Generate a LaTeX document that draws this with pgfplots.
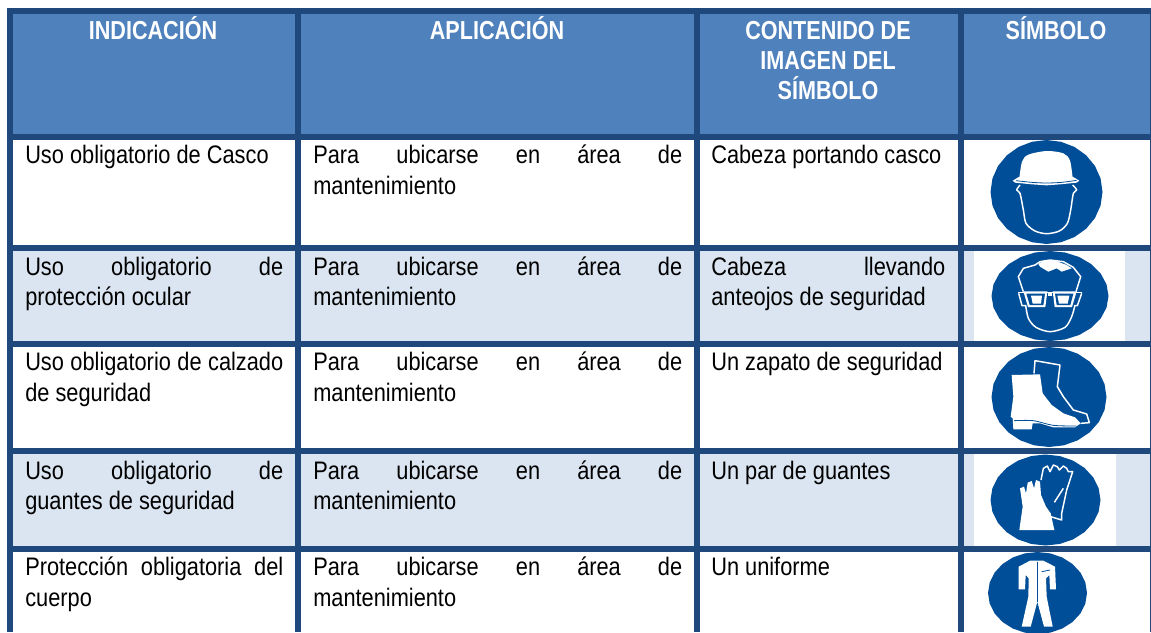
\documentclass[border=0pt]{standalone}
\usepackage{pgfplots}
\usepackage{pgfplotstable}
\usepackage{fontspec}
\pgfplotsset{compat=1.18}
\setmainfont{Liberation Sans}
\newfontfamily\bodyf[FakeStretch=0.86]{Liberation Sans}
\newfontfamily\headf[FakeStretch=0.83]{Liberation Sans Bold}
\definecolor{bord}{HTML}{1F497D}
\definecolor{head}{HTML}{4F81BD}
\definecolor{lite}{HTML}{DBE5F1}
\definecolor{sym}{HTML}{004E98}
\pgfplotstableread{
x y
1 0
0.9659 0.2588
0.866 0.5
0.7071 0.7071
0.5 0.866
0.2588 0.9659
0 1
-0.2588 0.9659
-0.5 0.866
-0.7071 0.7071
-0.866 0.5
-0.9659 0.2588
-1 0
-0.9659 -0.2588
-0.866 -0.5
-0.7071 -0.7071
-0.5 -0.866
-0.2588 -0.9659
0 -1
0.2588 -0.9659
0.5 -0.866
0.7071 -0.7071
0.866 -0.5
0.9659 -0.2588
}\unitc
% rectangle x1 y1 x2 y2 colour
\newcommand\tcell[5]{\addplot[fill=#5,draw=none] coordinates {(#1,#2) (#3,#2) (#3,#4) (#1,#4)} --cycle;}
\newcommand\disc[4]{\addplot[fill=sym,draw=none,x filter/.expression={#1+#3*x},y filter/.expression={#2+#4*y}] table[x=x,y=y] {\unitc} --cycle;}
\newcommand\tleft[3]{\node[anchor=base west,inner sep=0pt,text=black] at (axis cs:#1,#2) {\fontsize{19}{21}\bodyf #3};}
\newcommand\tjust[4]{\node[anchor=base west,inner sep=0pt,text=black] at (axis cs:#1,#2) {\fontsize{19}{21}\bodyf\makebox[\dimexpr #3pt*3/4\relax][s]{#4}};}
\newcommand\thead[3]{\node[anchor=base,inner sep=0pt,text=white] at (axis cs:#1,#2) {\fontsize{19.5}{21}\headf #3};}
\pgfplotsset{
 zA/.style={x filter/.expression={960+x/3},y filter/.expression={130+y/3}},
 zB/.style={x filter/.expression={960+x/3},y filter/.expression={340+y/3}},
 wf/.style={fill=white,draw=none},
 bf/.style={fill=sym,draw=none},
 wl/.style={draw=white,line width=1.1pt,fill=none,line join=round},
 bl/.style={draw=sym,line width=0.6pt,fill=none,line join=round},
}
\begin{document}
\begin{tikzpicture}
\begin{axis}[
 scale only axis, width=863.25pt, height=474pt,
 xmin=0, xmax=1151, ymin=0, ymax=632, y dir=reverse,
 hide axis, clip=true]
% page background
\tcell{0}{0}{1151}{632}{white}
% table frame
\tcell{7}{8}{1151}{632}{bord}
% header
\tcell{13}{14}{295}{134}{head}
\tcell{301}{14}{694}{134}{head}
\tcell{700}{14}{958}{134}{head}
\tcell{964}{14}{1150}{134}{head}
% rows
\tcell{13}{140}{295}{245}{white}
\tcell{301}{140}{694}{245}{white}
\tcell{700}{140}{958}{245}{white}
\tcell{964}{140}{1150}{245}{white}
\tcell{13}{251}{295}{341}{lite}
\tcell{301}{251}{694}{341}{lite}
\tcell{700}{251}{958}{341}{lite}
\tcell{964}{251}{1150}{341}{lite}
\tcell{974}{251}{1125}{341}{white}
\tcell{13}{347}{295}{448}{white}
\tcell{301}{347}{694}{448}{white}
\tcell{700}{347}{958}{448}{white}
\tcell{964}{347}{1150}{448}{white}
\tcell{13}{454}{295}{546}{lite}
\tcell{301}{454}{694}{546}{lite}
\tcell{700}{454}{958}{546}{lite}
\tcell{964}{454}{1150}{546}{lite}
\tcell{974}{454}{1116}{546}{white}
\tcell{13}{552}{295}{632}{white}
\tcell{301}{552}{694}{632}{white}
\tcell{700}{552}{958}{632}{white}
\tcell{964}{552}{1150}{632}{white}
% symbol discs
\disc{1046.5}{192}{56}{52}
\disc{1050}{296}{58.5}{45}
\disc{1049}{397}{57.5}{50}
\disc{1045.5}{500}{55}{45.5}
\disc{1037.5}{593}{49.5}{41}
% helmet
\addplot[wf,zA,smooth] coordinates {(178,145) (186,95) (205,74) (260,63) (310,70) (330,92) (338,145)} --cycle;
\addplot[wf,zA] coordinates {(178,140) (338,140) (358,152) (350,158) (300,163) (260,166) (215,163) (165,158) (158,152)} --cycle;
\addplot[bl,zA,smooth] coordinates {(168,152) (215,157) (260,159) (305,157) (350,151)};
\addplot[wl,zA,smooth] coordinates {(180,165) (170,180) (180,190) (190,240) (198,280) (225,303) (260,311) (298,303) (322,280) (332,240) (340,190) (350,180) (338,165)};
% glasses face
\addplot[wl,zA] coordinates {(190,485) (175,440) (190,415) (225,405) (240,395) (270,390) (310,395) (340,412) (362,440) (348,485)};
\addplot[wf,zA] coordinates {(235,402) (250,392) (285,392) (320,405) (335,415) (305,425) (290,415) (265,425) (240,410)} --cycle;
\addplot[wl,zA,smooth] coordinates {(197,525) (205,565) (228,592) (270,605) (315,592) (335,560) (345,525)};
\addplot[wl,zA] coordinates {(176,490) (186,527) (197,527)};
\addplot[wl,zA] coordinates {(365,490) (352,527) (345,527)};
\addplot[wl,zA] coordinates {(175,487) (365,487)};
\addplot[wf,zA] coordinates {(190,484) (262,484) (256,531) (204,531)} --cycle;
\addplot[wf,zA] coordinates {(278,484) (350,484) (336,531) (284,531)} --cycle;
\addplot[bf,zA] coordinates {(199,491) (255,491) (250,525) (209,525)} --cycle;
\addplot[bf,zA] coordinates {(285,491) (340,491) (331,525) (290,525)} --cycle;
\addplot[wf,zA] coordinates {(213,497) (246,497) (243,521) (218,521)} --cycle;
\addplot[wf,zA] coordinates {(292,497) (328,497) (323,521) (297,521)} --cycle;
\addplot[wf,zA] coordinates {(263,490) (276,490) (276,498) (263,498)} --cycle;
% boots
\addplot[wf,zB] coordinates {(155,105) (240,103) (248,160) (275,195) (310,220) (345,232) (362,250) (345,262) (280,262) (240,250) (218,250) (215,268) (160,268) (158,235) (152,230) (160,170)} --cycle;
\addplot[bl,zB,smooth] coordinates {(162,242) (220,242) (280,256) (350,258)};
\addplot[wl,zB] coordinates {(222,100) (225,62) (300,75) (292,140) (310,170) (340,210) (380,222) (388,248) (362,250)};
% gloves
\addplot[wf,zB] coordinates {(178,570) (188,500) (180,445) (192,440) (198,460) (203,428) (215,423) (222,445) (228,420) (240,425) (243,465) (258,500) (272,520) (283,570)} --cycle;
\addplot[wl,zB] coordinates {(243,420) (250,385) (262,378) (270,395) (280,375) (292,380) (298,390) (310,378) (320,385) (325,395) (338,395) (320,450) (305,520) (305,540) (272,530)};
\addplot[wl,zB] coordinates {(283,487) (310,445)};
% coverall
\addplot[wf,zB] coordinates {(210,662) (250,662) (285,680) (288,748) (270,748) (268,705) (258,715) (260,770) (278,860) (252,860) (232,785) (212,860) (185,860) (205,770) (206,715) (197,705) (195,748) (176,748) (176,680)} --cycle;
\addplot[bl,zB] coordinates {(232,665) (232,785)};
\addplot[bl,zB] coordinates {(245,695) (270,690)};
% header text
\thead{153}{39}{INDICACIÓN}
\thead{497}{39}{APLICACIÓN}
\thead{828}{39}{CONTENIDO DE}
\thead{828}{69}{IMAGEN DEL}
\thead{828}{99}{SÍMBOLO}
\thead{1056}{39}{SÍMBOLO}
% column 1
\tleft{25}{163}{Uso obligatorio de Casco}
\tjust{25}{275}{258}{Uso\hfill obligatorio\hfill de}
\tleft{25}{305}{protección ocular}
\tjust{25}{370}{258}{Uso\hfill obligatorio\hfill de\hfill calzado}
\tleft{25}{401}{de seguridad}
\tjust{25}{479}{258}{Uso\hfill obligatorio\hfill de}
\tleft{25}{509}{guantes de seguridad}
\tjust{25}{575}{258}{Protección\hfill obligatoria\hfill del}
\tleft{25}{606}{cuerpo}
% column 2
\tjust{313}{163}{369}{Para\hfill ubicarse\hfill en\hfill área\hfill de}
\tleft{313}{194}{mantenimiento}
\tjust{313}{275}{369}{Para\hfill ubicarse\hfill en\hfill área\hfill de}
\tleft{313}{305}{mantenimiento}
\tjust{313}{370}{369}{Para\hfill ubicarse\hfill en\hfill área\hfill de}
\tleft{313}{401}{mantenimiento}
\tjust{313}{479}{369}{Para\hfill ubicarse\hfill en\hfill área\hfill de}
\tleft{313}{509}{mantenimiento}
\tjust{313}{575}{369}{Para\hfill ubicarse\hfill en\hfill área\hfill de}
\tleft{313}{606}{mantenimiento}
% column 3
\tleft{711}{163}{Cabeza portando casco}
\tjust{711}{275}{234}{Cabeza\hfill llevando}
\tleft{711}{305}{anteojos de seguridad}
\tleft{711}{370}{Un zapato de seguridad}
\tleft{711}{479}{Un par de guantes}
\tleft{711}{575}{Un uniforme}
\end{axis}
\end{tikzpicture}
\end{document}
